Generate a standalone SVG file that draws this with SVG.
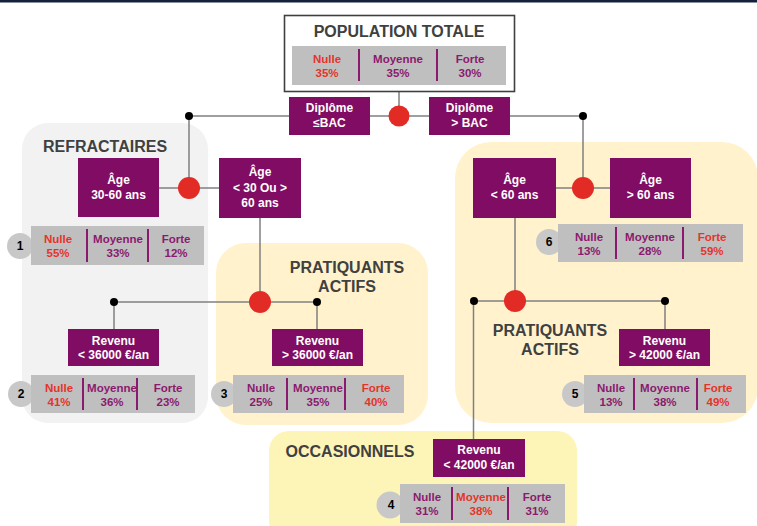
<svg xmlns="http://www.w3.org/2000/svg" width="757" height="526" viewBox="0 0 757 526">
<style>
.ttl{font-family:"Liberation Sans",Arial,sans-serif;font-weight:bold;font-size:16px;fill:#404040;text-anchor:middle}
.bx{fill:#800d63}
.bt{font-family:"Liberation Sans",Arial,sans-serif;font-weight:bold;font-size:12px;fill:#ffffff;text-anchor:middle}
.bar{fill:#bfbfbf}
.dv{stroke:#8b1a6e;stroke-width:2}
.st{font-family:"Liberation Sans",Arial,sans-serif;font-weight:bold;font-size:11.5px;text-anchor:middle}
.p{fill:#8b1a6e}
.r{fill:#e5342b}
.nc{fill:#c8c8c8}
.nt{font-family:"Liberation Sans",Arial,sans-serif;font-weight:bold;font-size:12px;fill:#000;text-anchor:middle}
.ln{stroke:#808080;stroke-width:1.5;fill:none}
.rd{fill:#e32b26}
.bk{fill:#000}
</style>
<rect x="0" y="0" width="757" height="2.5" fill="#14213d"/>
<g id="regions">
<rect x="22" y="123" width="186" height="300" rx="26" fill="#f2f2f2"/>
<rect x="216" y="243" width="212" height="182" rx="30" fill="#fff2cc"/>
<rect x="455" y="142" width="303" height="281" rx="36" fill="#fff2cc"/>
<rect x="269" y="431" width="308" height="110" rx="20" fill="#fdf4b8"/>
<text class="ttl" x="105" y="152">REFRACTAIRES</text>
<text class="ttl" x="347" y="273">PRATIQUANTS</text>
<text class="ttl" x="347" y="292">ACTIFS</text>
<text class="ttl" x="550" y="336">PRATIQUANTS</text>
<text class="ttl" x="550" y="355">ACTIFS</text>
<text class="ttl" x="350" y="457">OCCASIONNELS</text>
</g>
<g id="connectors">
<path class="ln" d="M399,92V116M189,116H583M189,116V188M159,188H219M260,218V302M114,302H317M114,302V329M317,302V329M583,116V188M556,188H610M515,218V301M474,301H665M665,301V329M473.5,301V439"/>
<circle class="rd" cx="399" cy="116" r="10.5"/>
<circle class="rd" cx="189" cy="188" r="11"/>
<circle class="rd" cx="260" cy="302" r="11"/>
<circle class="rd" cx="583" cy="188" r="11"/>
<circle class="rd" cx="515" cy="301" r="11"/>
<circle class="bk" cx="189" cy="116" r="4"/>
<circle class="bk" cx="583" cy="116" r="4"/>
<circle class="bk" cx="114" cy="302" r="4"/>
<circle class="bk" cx="317" cy="302" r="4"/>
<circle class="bk" cx="474" cy="301" r="4"/>
<circle class="bk" cx="665" cy="301" r="4"/>
</g>
<g id="population">
<rect x="284.5" y="15.5" width="230" height="76" fill="#fff" stroke="#404040" stroke-width="1.6"/>
<text class="ttl" x="399" y="37">POPULATION TOTALE</text>
<rect class="bar" x="292" y="46" width="214" height="39"/>
<line class="dv" x1="359" y1="49" x2="359" y2="81"/>
<line class="dv" x1="437" y1="49" x2="437" y2="81"/>
<text class="st r" x="327" y="63">Nulle</text><text class="st r" x="327" y="77">35%</text>
<text class="st p" x="398" y="63">Moyenne</text><text class="st p" x="398" y="77">35%</text>
<text class="st p" x="470" y="63">Forte</text><text class="st p" x="470" y="77">30%</text>
</g>
<g id="diplome-bas">
<rect class="bx" x="289" y="97" width="81" height="38"/>
<text class="bt" x="329.5" y="112">Diplôme</text><text class="bt" x="329.5" y="127">≤BAC</text>
</g>
<g id="diplome-haut">
<rect class="bx" x="429" y="97" width="81" height="38"/>
<text class="bt" x="469.5" y="112">Diplôme</text><text class="bt" x="469.5" y="127">&gt; BAC</text>
</g>
<g id="age-30-60">
<rect class="bx" x="78" y="158" width="81" height="59"/>
<text class="bt" x="118.5" y="184">Âge</text><text class="bt" x="118.5" y="199">30-60 ans</text>
</g>
<g id="age-30-ou-60">
<rect class="bx" x="219" y="158" width="82" height="60"/>
<text class="bt" x="260" y="176">Âge</text><text class="bt" x="260" y="192">&lt; 30 Ou &gt;</text><text class="bt" x="260" y="207">60 ans</text>
</g>
<g id="age-moins-60">
<rect class="bx" x="473" y="158" width="83" height="60"/>
<text class="bt" x="514.5" y="184">Âge</text><text class="bt" x="514.5" y="199">&lt; 60 ans</text>
</g>
<g id="age-plus-60">
<rect class="bx" x="610" y="158" width="81" height="60"/>
<text class="bt" x="650.5" y="184">Âge</text><text class="bt" x="650.5" y="199">&gt; 60 ans</text>
</g>
<g id="revenu-moins-36000">
<rect class="bx" x="68" y="329" width="91" height="37"/>
<text class="bt" x="113.5" y="345">Revenu</text><text class="bt" x="113.5" y="359">&lt; 36000 €/an</text>
</g>
<g id="revenu-plus-36000">
<rect class="bx" x="272" y="329" width="91" height="37"/>
<text class="bt" x="317.5" y="345">Revenu</text><text class="bt" x="317.5" y="359">&gt; 36000 €/an</text>
</g>
<g id="revenu-plus-42000">
<rect class="bx" x="619" y="329" width="91" height="37"/>
<text class="bt" x="664.5" y="345">Revenu</text><text class="bt" x="664.5" y="359">&gt; 42000 €/an</text>
</g>
<g id="revenu-moins-42000">
<rect class="bx" x="433" y="439" width="92" height="38"/>
<text class="bt" x="479" y="454">Revenu</text><text class="bt" x="479" y="469">&lt; 42000 €/an</text>
</g>
<g id="segment-1">
<circle class="nc" cx="20" cy="246" r="13"/><text class="nt" x="20" y="250">1</text>
<rect class="bar" x="31" y="226" width="173" height="39"/>
<line class="dv" x1="87" y1="229" x2="87" y2="262"/><line class="dv" x1="148" y1="229" x2="148" y2="262"/>
<text class="st r" x="58" y="243">Nulle</text><text class="st r" x="58" y="257">55%</text>
<text class="st p" x="118" y="243">Moyenne</text><text class="st p" x="118" y="257">33%</text>
<text class="st p" x="176" y="243">Forte</text><text class="st p" x="176" y="257">12%</text>
</g>
<g id="segment-2">
<circle class="nc" cx="21" cy="394" r="13"/><text class="nt" x="21" y="398">2</text>
<rect class="bar" x="31" y="375" width="164" height="38"/>
<line class="dv" x1="83" y1="378" x2="83" y2="410"/><line class="dv" x1="137" y1="378" x2="137" y2="410"/>
<text class="st r" x="59" y="392">Nulle</text><text class="st r" x="59" y="406">41%</text>
<text class="st p" x="112" y="392">Moyenne</text><text class="st p" x="112" y="406">36%</text>
<text class="st p" x="168" y="392">Forte</text><text class="st p" x="168" y="406">23%</text>
</g>
<g id="segment-3">
<circle class="nc" cx="224" cy="394" r="13"/><text class="nt" x="224" y="398">3</text>
<rect class="bar" x="233" y="375" width="171" height="38"/>
<line class="dv" x1="287" y1="378" x2="287" y2="410"/><line class="dv" x1="345" y1="378" x2="345" y2="410"/>
<text class="st p" x="261" y="392">Nulle</text><text class="st p" x="261" y="406">25%</text>
<text class="st p" x="318" y="392">Moyenne</text><text class="st p" x="318" y="406">35%</text>
<text class="st r" x="376" y="392">Forte</text><text class="st r" x="376" y="406">40%</text>
</g>
<g id="segment-4">
<circle class="nc" cx="390" cy="505" r="13.5"/><text class="nt" x="391" y="509">4</text>
<rect class="bar" x="400" y="484" width="165" height="39"/>
<line class="dv" x1="452" y1="487" x2="452" y2="520"/><line class="dv" x1="508" y1="487" x2="508" y2="520"/>
<text class="st p" x="427" y="501">Nulle</text><text class="st p" x="427" y="515">31%</text>
<text class="st r" x="481" y="501">Moyenne</text><text class="st r" x="481" y="515">38%</text>
<text class="st p" x="537" y="501">Forte</text><text class="st p" x="537" y="515">31%</text>
</g>
<g id="segment-5">
<circle class="nc" cx="575" cy="394" r="13"/><text class="nt" x="575" y="398">5</text>
<rect class="bar" x="584" y="375" width="162" height="38"/>
<line class="dv" x1="634" y1="378" x2="634" y2="410"/><line class="dv" x1="697" y1="378" x2="697" y2="410"/>
<text class="st p" x="611" y="392">Nulle</text><text class="st p" x="611" y="406">13%</text>
<text class="st p" x="665" y="392">Moyenne</text><text class="st p" x="665" y="406">38%</text>
<text class="st r" x="718" y="392">Forte</text><text class="st r" x="718" y="406">49%</text>
</g>
<g id="segment-6">
<circle class="nc" cx="549" cy="242" r="13"/><text class="nt" x="549" y="246">6</text>
<rect class="bar" x="558" y="224" width="185" height="38"/>
<line class="dv" x1="616" y1="227" x2="616" y2="259"/><line class="dv" x1="683" y1="227" x2="683" y2="259"/>
<text class="st p" x="589" y="241">Nulle</text><text class="st p" x="589" y="255">13%</text>
<text class="st p" x="650" y="241">Moyenne</text><text class="st p" x="650" y="255">28%</text>
<text class="st r" x="712" y="241">Forte</text><text class="st r" x="712" y="255">59%</text>
</g>
</svg>
